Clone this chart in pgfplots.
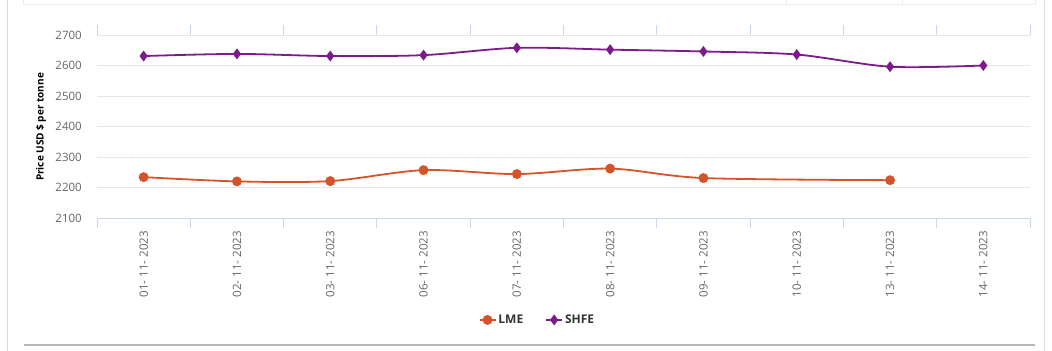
\documentclass[border=0pt]{standalone}
\usepackage{fontspec}
\setmainfont{Open Sans}
\usepackage{pgfplots}
\pgfplotsset{compat=1.18}
\definecolor{lme}{HTML}{D4532A}
\definecolor{shfe}{HTML}{7D1A8C}
\definecolor{gridc}{HTML}{E6E6E6}
\definecolor{axisc}{HTML}{CCD6EB}
\definecolor{labc}{HTML}{666666}
\definecolor{legc}{HTML}{333333}
\newcommand{\dt}[1]{#1-\kern3bp 11-\kern3bp 2023}
\begin{document}
\begin{tikzpicture}
\path[use as bounding box] (0bp,0bp) rectangle (1052bp,351bp);
\draw[color=black!14, line width=1bp] (7bp,0bp) -- (7bp,351bp);
\draw[color=black!14, line width=1bp] (1044bp,0bp) -- (1044bp,351bp);
\draw[color=black!8, line width=1bp] (23.5bp,351bp) -- (23.5bp,346.5bp) -- (1035bp,346.5bp) -- (1035bp,351bp);
\draw[color=black!8, line width=1bp] (786bp,346.5bp) -- (786bp,351bp);
\draw[color=black!8, line width=1bp] (902bp,346.5bp) -- (902bp,351bp);
\draw[color=black!28, line width=1.5bp] (23.5bp,6bp) -- (1035bp,6bp);
\node[rotate=90, font=\fontsize{10bp}{12bp}\selectfont\bfseries, text=black] at (41bp,224bp) {Price USD \$ per tonne};
\begin{axis}[
  at={(97bp,133bp)}, anchor=south west,
  width=933bp, height=183bp, scale only axis,
  xmin=-0.5, xmax=9.5, ymin=2100, ymax=2700,
  ytick={2100,2200,...,2700},
  xtick={0,...,9},
  xticklabels={\dt{01},\dt{02},\dt{03},\dt{06},\dt{07},\dt{08},\dt{09},\dt{10},\dt{13},\dt{14}},
  minor xtick={-0.5,0.5,...,9.5},
  major tick length=0pt,
  minor tick length=10bp,
  tick align=outside,
  minor tick style={axisc, line width=1bp},
  axis line style={draw=none},
  ymajorgrids,
  grid style={gridc, line width=1bp},
  /pgf/number format/.cd, 1000 sep={}, assume math mode=true, /pgfplots/.cd,
  yticklabel style={font=\fontsize{11.5bp}{13bp}\selectfont, text=labc, anchor=east, inner sep=0pt},
  yticklabel shift=15bp,
  xticklabel style={font=\fontsize{11.5bp}{13bp}\selectfont, text=labc, rotate=90, anchor=east, inner sep=0pt},
  xticklabel shift=13bp,
  clip=false,
  legend style={at={(0.472,-0.557)}, anchor=center, draw=none, fill=none,
    legend columns=2, font=\fontsize{12bp}{14bp}\selectfont\bfseries, text=legc,
    /tikz/every even column/.append style={column sep=20bp}},
  legend image code/.code={\draw[mark repeat=2,mark phase=2,#1] plot coordinates {(0bp,0bp) (8bp,0bp) (16bp,0bp)};},
]
\draw[axisc, line width=1bp] (rel axis cs:0,0) -- (rel axis cs:1,0);
\addplot[lme, line width=1.8bp, smooth, tension=0.5, mark=*, mark size=4bp, mark options={solid}] coordinates {
 (0,2234) (1,2220) (2,2221) (3,2257) (4,2244) (5,2262) (6,2231) (8,2224)
};
\addlegendentry{LME}
\addplot[shfe, line width=1.8bp, smooth, tension=0.5, mark=diamond*, mark size=4bp, mark options={solid}] coordinates {
 (0,2631) (1,2638) (2,2631) (3,2634) (4,2658) (5,2652) (6,2646) (7,2636) (8,2596) (9,2600)
};
\addlegendentry{SHFE}
\end{axis}
\end{tikzpicture}
\end{document}
